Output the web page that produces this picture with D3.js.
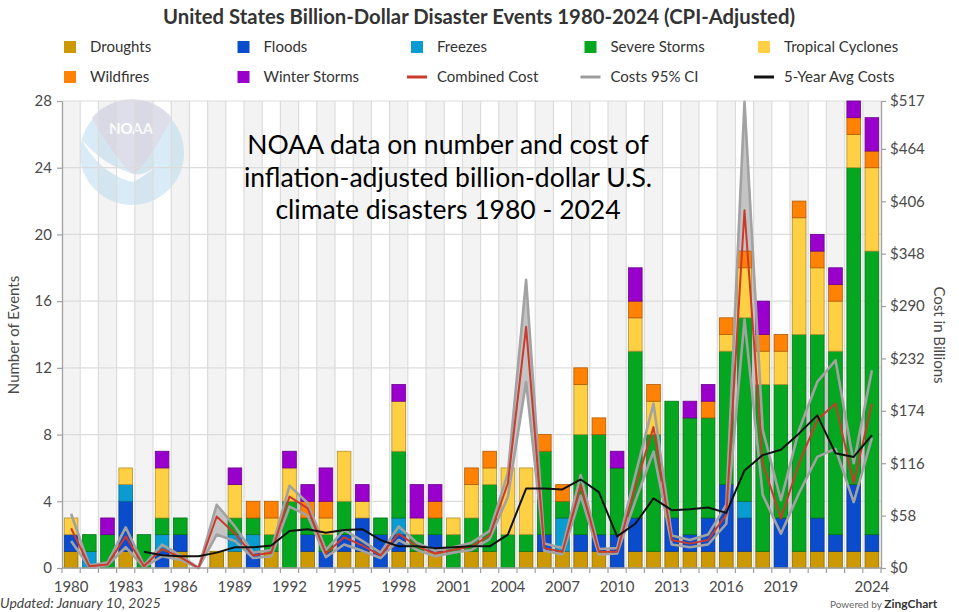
<!DOCTYPE html>
<html>
<head>
<meta charset="utf-8">
<script src="https://cdn.jsdelivr.net/npm/d3@7"></script>
<style>
  body { margin: 0; background: #fff; }
  text { font-family: Lato, "Noto Sans", sans-serif; }
</style>
</head>
<body>
<svg id="chart" width="959" height="612"></svg>
<script>
// years on the x axis
const years = [1980,1981,1982,1983,1984,1985,1986,1987,1988,1989,
  1990,1991,1992,1993,1994,1995,1996,1997,1998,1999,
  2000,2001,2002,2003,2004,2005,2006,2007,2008,2009,
  2010,2011,2012,2013,2014,2015,2016,2017,2018,2019,
  2020,2021,2022,2023,2024];
const xLabels = [1980,1983,1986,1989,1992,1995,1998,2001,2004,2007,2010,2013,2016,2019,2024];

// event counts per type (stacked bottom -> top)
const droughts  = [1,0,0,1,0,0,1,0,1,1, 0,1,0,1,0,1,1,0,1,1, 1,0,1,1,0,1,1,1,1,1, 0,1,1,1,1,1,1,1,1,0, 1,1,1,1,1];
const floods    = [1,0,0,3,0,1,1,0,0,0, 1,0,0,1,1,1,2,2,1,0, 1,0,0,0,0,0,1,0,1,1, 2,2,0,2,1,2,4,2,0,3, 0,2,1,4,1];
const freezes   = [0,1,0,1,0,1,0,0,0,1, 1,0,0,0,0,0,0,0,1,0, 0,0,0,0,0,0,0,2,0,0, 0,0,0,0,0,0,0,1,0,0, 0,0,0,0,0];
const severe    = [0,1,2,0,2,1,1,0,0,1, 1,1,4,1,1,2,0,1,4,1, 1,2,2,4,2,1,5,1,6,6, 4,10,7,7,7,6,8,11,10,8, 13,11,11,19,17];
const tropical  = [1,0,0,1,0,3,0,0,0,2, 0,1,2,0,1,3,1,0,3,1, 0,1,2,1,4,4,0,0,3,0, 0,2,2,0,0,0,1,3,2,2, 7,4,3,2,5];
const wildfires = [0,0,0,0,0,0,0,0,0,0, 1,1,0,1,1,0,0,0,0,0, 1,0,1,1,0,0,1,1,1,1, 0,1,1,0,0,1,1,1,1,1, 1,1,1,1,1];
const winter    = [0,0,1,0,0,1,0,0,0,1, 0,0,1,1,2,0,1,0,1,2, 1,0,0,0,0,0,0,0,0,0, 1,2,0,0,1,1,0,0,2,0, 0,1,1,1,2];

// costs in billions (CPI-adjusted)
const combinedCost = [44,2,4,35,2,21,12,0,57,38, 14,17,79,66,16,34,25,14,38,24, 16,20,24,36,94,267,22,18,92,18,
  18,90,156,31,27,31,59,396,116,55, 116,164,182,94,182];
const costUpper = [60,3,6,45,3,26,14,0,70,46, 17,20,91,72,20,42,30,17,46,28, 19,23,28,41,105,319,27,22,103,21,
  22,103,182,36,31,37,70,516,153,75, 153,206,230,116,219];
const costLower = [30,1,3,23,1,13,9,0,37,30, 11,13,68,58,12,26,19,11,31,20, 13,17,20,32,79,206,19,15,80,15,
  16,74,129,26,23,26,49,275,81,38, 83,123,132,73,144];
const avg5Year = [null,null,null,null,18,14,13,13,17,23, 23,25,41,43,39,42,43,31,24,24, 22,23,24,24,37,88,88,87,98,84,
  35,49,77,64,65,67,61,108,125,131, 149,169,127,123,147];

const countTicks = [0,4,8,12,16,20,24,28];
const costTicks = [0,58,116,174,232,290,348,406,464,517];

const seriesNames = ["Droughts","Floods","Freezes","Severe Storms","Tropical Cyclones","Wildfires","Winter Storms"];
const seriesValues = [droughts, floods, freezes, severe, tropical, wildfires, winter];
const seriesColors = ["#cc9a00","#0a4ccb","#0a9bd0","#04a71f","#ffd044","#ff8205","#9a00cb"];

const svg = d3.select("#chart");
const plotLeft = 62, plotRight = 881, plotTop = 101, plotBottom = 568;

const xBand = d3.scaleBand().domain(years).range([plotLeft, plotRight]).paddingInner(0.25).paddingOuter(0.125);
const xCell = d3.scaleBand().domain(years).range([plotLeft, plotRight]).padding(0);
const yCount = d3.scaleLinear().domain([0, 28]).range([plotBottom, plotTop]);
const yCost = d3.scaleLinear().domain([0, 517]).range([plotBottom, plotTop]);
const cx = y => xBand(y) + xBand.bandwidth() / 2;

// alternating column background
svg.append("g").selectAll("rect").data(years).join("rect")
  .attr("x", d => xCell(d)).attr("y", plotTop)
  .attr("width", xCell.bandwidth()).attr("height", plotBottom - plotTop)
  .attr("fill", (d, i) => i % 2 === 0 ? "#f3f3f3" : "#ffffff");

// faded NOAA logo
const logo = svg.append("g").attr("opacity", 0.55);
logo.append("circle").attr("cx", 132).attr("cy", 153).attr("r", 52).attr("fill", "#b9dcef");
logo.append("path")
  .attr("d", "M92,118 A52,52 0 0 1 172,118 C160,140 150,160 133,175 C118,160 104,140 92,118 Z")
  .attr("fill", "#c4c4dc");
logo.append("path")
  .attr("d", "M82,140 C95,165 115,178 133,182 C145,176 155,168 160,162 C150,172 140,178 128,172 C110,166 95,155 82,140 Z")
  .attr("fill", "#ffffff");
logo.append("text").attr("x", 131).attr("y", 134).attr("text-anchor", "middle")
  .attr("font-size", 15).attr("font-weight", "bold").attr("fill", "#ffffff").text("NOAA");

// grid lines
svg.append("g").selectAll("line").data(years.slice(1)).join("line")
  .attr("x1", d => xCell(d)).attr("x2", d => xCell(d))
  .attr("y1", plotTop).attr("y2", plotBottom)
  .attr("stroke", "#dcdcdc").attr("stroke-width", 1.2);
svg.append("g").selectAll("line").data(countTicks.slice(1)).join("line")
  .attr("x1", plotLeft).attr("x2", plotRight)
  .attr("y1", d => yCount(d)).attr("y2", d => yCount(d))
  .attr("stroke", "#dcdcdc").attr("stroke-width", 1.2);

// 95% CI band sits behind the bars
const costRows = years.map((y, i) => ({ year: y, c: combinedCost[i], u: costUpper[i], l: costLower[i], a: avg5Year[i] }));
svg.append("path").datum(costRows)
  .attr("fill", "#c4c4c4")
  .attr("d", d3.area().x(d => cx(d.year)).y0(d => yCost(d.l)).y1(d => yCost(d.u)));

// stacked bars
const table = years.map((y, i) => {
  const row = { year: y };
  seriesNames.forEach((n, k) => row[n] = seriesValues[k][i]);
  return row;
});
const stacked = d3.stack().keys(seriesNames)(table);
svg.append("g").selectAll("g").data(stacked).join("g")
  .attr("fill", (d, i) => seriesColors[i])
  .attr("stroke", (d, i) => d3.color(seriesColors[i]).darker(1))
  .attr("stroke-width", 0.8)
  .selectAll("rect").data(d => d).join("rect")
  .attr("x", d => xBand(d.data.year))
  .attr("width", xBand.bandwidth())
  .attr("y", d => yCount(d[1]))
  .attr("height", d => yCount(d[0]) - yCount(d[1]));

// cost lines
["u", "l"].forEach(k => {
  svg.append("path").datum(costRows)
    .attr("fill", "none").attr("stroke", "#a2a2a2").attr("stroke-width", 2.6)
    .attr("stroke-linejoin", "round")
    .attr("d", d3.line().x(d => cx(d.year)).y(d => yCost(d[k])));
});
svg.append("path").datum(costRows)
  .attr("fill", "none").attr("stroke", "#cc3a2e").attr("stroke-width", 2)
  .attr("stroke-linejoin", "round")
  .attr("d", d3.line().x(d => cx(d.year)).y(d => yCost(d.c)));
svg.append("path").datum(costRows)
  .attr("fill", "none").attr("stroke", "#111").attr("stroke-width", 2)
  .attr("stroke-linejoin", "round")
  .attr("d", d3.line().defined(d => d.a !== null).x(d => cx(d.year)).y(d => yCost(d.a)));

// axes
const axisColor = "#a0a0a0", labelColor = "#4a4a4a";
const styleAxis = g => {
  g.selectAll(".domain").attr("stroke", axisColor).attr("stroke-width", 1.3);
  g.selectAll(".tick line").attr("stroke", axisColor).attr("stroke-width", 1.2);
  g.selectAll(".tick text").attr("fill", labelColor).attr("font-size", 15)
    .style("font-family", "Lato, sans-serif");
};
svg.append("g").attr("transform", `translate(${plotLeft},0)`)
  .call(d3.axisLeft(yCount).tickValues(countTicks).tickSize(5).tickPadding(5).tickSizeOuter(0))
  .call(styleAxis);
svg.append("g").attr("transform", `translate(${plotRight},0)`)
  .call(d3.axisRight(yCost).tickValues(costTicks).tickFormat(d => "$" + d).tickSize(5).tickPadding(4).tickSizeOuter(0))
  .call(styleAxis);
const xAxis = svg.append("g").attr("transform", `translate(0,${plotBottom})`)
  .call(d3.axisBottom(xBand).tickValues(xLabels).tickSize(0).tickPadding(13))
  .call(styleAxis);
xAxis.select(".domain").remove();
svg.append("line").attr("x1", plotLeft).attr("x2", plotRight).attr("y1", plotBottom).attr("y2", plotBottom)
  .attr("stroke", axisColor).attr("stroke-width", 1.3);
svg.append("g").selectAll("line").data(years.concat(["end"])).join("line")
  .attr("x1", d => d === "end" ? plotRight : xCell(d)).attr("x2", d => d === "end" ? plotRight : xCell(d))
  .attr("y1", plotBottom).attr("y2", plotBottom + 5)
  .attr("stroke", axisColor).attr("stroke-width", 1.2);

svg.append("text").attr("transform", "translate(19,335) rotate(-90)")
  .attr("text-anchor", "middle").attr("font-size", 15).attr("fill", labelColor).text("Number of Events");
svg.append("text").attr("transform", "translate(934,335) rotate(90)")
  .attr("text-anchor", "middle").attr("font-size", 15).attr("fill", labelColor).text("Cost in Billions");

// title
svg.append("text").attr("x", 479).attr("y", 24).attr("text-anchor", "middle")
  .attr("font-size", 20).attr("font-weight", "bold").attr("fill", "#333")
  .attr("textLength", 632).attr("lengthAdjust", "spacingAndGlyphs")
  .text("United States Billion-Dollar Disaster Events 1980-2024 (CPI-Adjusted)");

// legend
const legendItems = seriesNames.map((n, i) => ({ name: n, color: seriesColors[i], type: "box" }))
  .concat([
    { name: "Combined Cost", color: "#cc3a2e", type: "line" },
    { name: "Costs 95% CI", color: "#9c9c9c", type: "line" },
    { name: "5-Year Avg Costs", color: "#111", type: "line" }
  ]);
const legend = svg.append("g").selectAll("g").data(legendItems).join("g")
  .attr("transform", (d, i) => `translate(${70 + (i % 5) * 173.5},${i < 5 ? 47 : 77})`);
legend.filter(d => d.type === "box").append("rect")
  .attr("x", -6).attr("y", -6).attr("width", 12).attr("height", 12)
  .attr("fill", d => d.color);
legend.filter(d => d.type === "line").append("line")
  .attr("x1", -10).attr("x2", 10).attr("y1", 0).attr("y2", 0)
  .attr("stroke", d => d.color).attr("stroke-width", 3);
legend.append("text").attr("x", 20).attr("y", 5)
  .attr("font-size", 15).attr("fill", "#333").text(d => d.name);

// annotation
const note = ["NOAA data on number and cost of", "inflation-adjusted billion-dollar U.S.", "climate disasters 1980 - 2024"];
svg.append("g").selectAll("text").data(note).join("text")
  .attr("x", 448).attr("y", (d, i) => 154 + i * 32.5)
  .attr("text-anchor", "middle").attr("font-size", 26.5).attr("fill", "#000").text(d => d);

// footer
svg.append("text").attr("x", 0).attr("y", 608).attr("font-size", 14).attr("font-style", "italic")
  .attr("fill", "#444").text("Updated: January 10, 2025");
const pw = svg.append("text").attr("x", 830).attr("y", 608).attr("font-size", 10).attr("fill", "#666");
pw.append("tspan").text("Powered by ");
pw.append("tspan").attr("font-weight", "bold").attr("font-size", 12).attr("fill", "#333").text("ZingChart");
</script>
</body>
</html>
